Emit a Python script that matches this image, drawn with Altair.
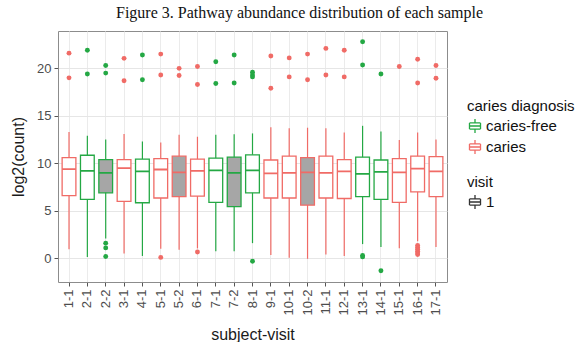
import altair as alt
import pandas as pd

# Per-sample summary of log2 pathway counts
samples = ["1-1", "2-1", "2-2", "3-1", "4-1", "5-1", "5-2", "6-1", "7-1", "7-2", "8-1",
           "9-1", "10-1", "10-2", "11-1", "12-1", "13-1", "14-1", "15-1", "16-1", "17-1"]
diagnosis = ["caries", "caries-free", "caries-free", "caries", "caries-free", "caries", "caries",
             "caries", "caries-free", "caries-free", "caries-free", "caries", "caries", "caries",
             "caries", "caries", "caries-free", "caries-free", "caries", "caries", "caries"]
visit = [s.split("-")[1] for s in samples]

whisker_low = [0.95, 0.15, 2.1, 0.5, 0.25, 1.0, 0.9, 1.05, 0.75, 0.75, 1.6,
               0.35, 0.05, -0.05, 0.4, 0.25, 1.5, 1.2, 1.05, 1.8, 1.2]
q1 = [6.6, 6.2, 6.9, 6.0, 5.85, 6.35, 6.5, 6.55, 5.9, 5.45, 6.9,
      6.35, 6.35, 5.6, 6.35, 6.3, 6.5, 6.2, 5.9, 7.0, 6.5]
median = [9.4, 9.2, 9.0, 9.5, 9.15, 9.35, 9.05, 9.2, 9.25, 9.0, 9.25,
          8.95, 9.0, 9.05, 9.0, 9.15, 8.9, 9.1, 9.05, 9.45, 9.15]
q3 = [10.6, 10.85, 10.4, 10.4, 10.45, 10.5, 10.75, 10.45, 10.55, 10.65, 10.9,
      10.35, 10.75, 10.6, 10.75, 10.4, 10.65, 10.35, 10.5, 10.75, 10.7]
whisker_high = [13.3, 12.9, 12.5, 13.1, 12.3, 12.2, 13.0, 12.8, 13.0, 13.05, 13.15,
                13.8, 13.7, 13.75, 13.7, 13.25, 13.95, 13.35, 12.45, 13.25, 12.5]

# Outlying pathways per sample
outliers = {
    "1-1": [21.6, 19.0],
    "2-1": [21.9, 19.4],
    "2-2": [20.3, 19.5, 1.6, 1.1, 0.2],
    "3-1": [21.05, 18.7],
    "4-1": [21.4, 18.8],
    "5-1": [21.5, 19.3, 0.1],
    "5-2": [20.0, 19.25],
    "6-1": [20.2, 18.3, 0.67],
    "7-1": [20.7, 18.4],
    "7-2": [21.4, 18.45],
    "8-1": [19.6, 19.3, 19.1, -0.3],
    "9-1": [21.3, 17.9],
    "10-1": [21.1, 19.1],
    "10-2": [21.5, 18.8],
    "11-1": [22.1, 19.3],
    "12-1": [21.9, 19.1],
    "13-1": [22.8, 20.35, 0.3, 0.15],
    "14-1": [19.4, -1.3],
    "15-1": [20.2],
    "16-1": [20.95, 18.45, 1.35, 1.15, 0.95, 0.75, 0.55, 0.4],
    "17-1": [20.3, 18.95],
}

diag_domain = ["caries-free", "caries"]
diag_colors = ["#24A844", "#F06B66"]
visit_domain = ["1", "2"]
visit_fills = ["#FFFFFF", "#A6A6A6"]
y_minor = [-2.5, 0, 2.5, 5, 7.5, 10, 12.5, 15, 17.5, 20, 22.5]

stats = pd.DataFrame({
    "sample": samples, "diagnosis": diagnosis, "visit": visit,
    "low": whisker_low, "q1": q1, "median": median, "q3": q3, "high": whisker_high,
})
diag_of = dict(zip(samples, diagnosis))
pts = pd.DataFrame(
    [{"sample": s, "diagnosis": diag_of[s], "value": v} for s, vals in outliers.items() for v in vals]
)

# Boxplot key glyph built from single-segment strokes so it carries no fill
box_glyph = ("M-0.8,-0.45H0.8 M0.8,-0.45V0.45 M0.8,0.45H-0.8 M-0.8,0.45V-0.45 "
             "M-0.8,0H0.8 M0,-1V-0.45 M0,0.45V1")

x_enc = alt.X(
    "sample:N", sort=samples,
    scale=alt.Scale(paddingInner=0, paddingOuter=0.1),
    axis=alt.Axis(title="subject-visit", labelAngle=-90, labelFontSize=13, labelColor="#4D4D4D",
                  labelPadding=3, tickSize=4, tickColor="#555555", domain=False,
                  grid=True, gridColor="#EBEBEB", titleFontSize=16, titleFontWeight="normal",
                  titleColor="#1A1A1A", titlePadding=11),
)
y_scale = alt.Scale(domain=[-2.49, 23.93], nice=False, zero=False)
y_axis = alt.Axis(
    title="log2(count)", values=y_minor,
    labelExpr="datum.value % 5 === 0 ? datum.label : ''",
    labelFontSize=13, labelColor="#4D4D4D", labelPadding=3, tickSize=4,
    tickColor={"condition": {"test": "datum.value % 5 === 0", "value": "#555555"}, "value": "transparent"},
    gridColor={"condition": {"test": "datum.value % 5 === 0", "value": "#E6E6E6"}, "value": "#F4F4F4"},
    domain=False, titleFontSize=16, titleFontWeight="normal", titleColor="#1A1A1A", titlePadding=10,
)

stroke_enc = alt.Stroke(
    "diagnosis:N", scale=alt.Scale(domain=diag_domain, range=diag_colors),
    legend=alt.Legend(title="caries diagnosis", orient="none", legendX=409, legendY=68,
                      symbolType=box_glyph, symbolSize=190, symbolStrokeWidth=1.3,
                      labelOffset=3, rowPadding=1),
)

base = alt.Chart(stats)

whiskers = base.mark_rule(strokeWidth=1.2).encode(
    x=x_enc, y=alt.Y("low:Q", scale=y_scale, axis=y_axis), y2="high:Q", stroke=stroke_enc,
)
boxes = base.mark_bar(width=alt.RelativeBandSize(0.75), strokeWidth=1.3).encode(
    x=alt.X("sample:N", sort=samples),
    y="q1:Q", y2="q3:Q",
    stroke=alt.Stroke("diagnosis:N"),
    fill=alt.Fill(
        "visit:N", scale=alt.Scale(domain=visit_domain, range=visit_fills),
        legend=alt.Legend(title="visit", orient="none", legendX=409, legendY=144, values=["1"],
                          symbolType=box_glyph, symbolSize=190, symbolStrokeWidth=1.3,
                          symbolStrokeColor="#333333", labelOffset=3),
    ),
)
medians = base.mark_bar(width=alt.RelativeBandSize(0.75), strokeWidth=1.8).encode(
    x=alt.X("sample:N", sort=samples),
    y="median:Q", y2="median:Q",
    stroke=alt.Stroke("diagnosis:N"),
)
points = alt.Chart(pts).mark_circle(size=24, opacity=1).encode(
    x=alt.X("sample:N", sort=samples),
    y="value:Q",
    fill=alt.Fill("diagnosis:N", scale=alt.Scale(domain=diag_domain, range=diag_colors), legend=None),
)

chart = (
    alt.layer(whiskers, boxes, medians, points)
    .resolve_scale(fill="independent")
    .properties(
        width=389, height=251,
        autosize=alt.AutoSizeParams(type="none"),
        padding={"left": 58, "top": 31, "right": 141, "bottom": 60},
        title=alt.Title("Figure 3. Pathway abundance distribution of each sample",
                        font="Liberation Serif", fontSize=16, fontWeight="normal", color="#111111",
                        anchor="middle", dx=47, offset=10),
    )
    .configure(font="Liberation Sans")
    .configure_view(stroke="#8C8C8C", strokeWidth=1)
    .configure_legend(titleFontSize=15, titleFontWeight="normal", titleColor="#111111",
                      labelFontSize=15, labelColor="#111111", titlePadding=4)
)

chart.save("out.html", embed_options={"renderer": "svg", "actions": False})
